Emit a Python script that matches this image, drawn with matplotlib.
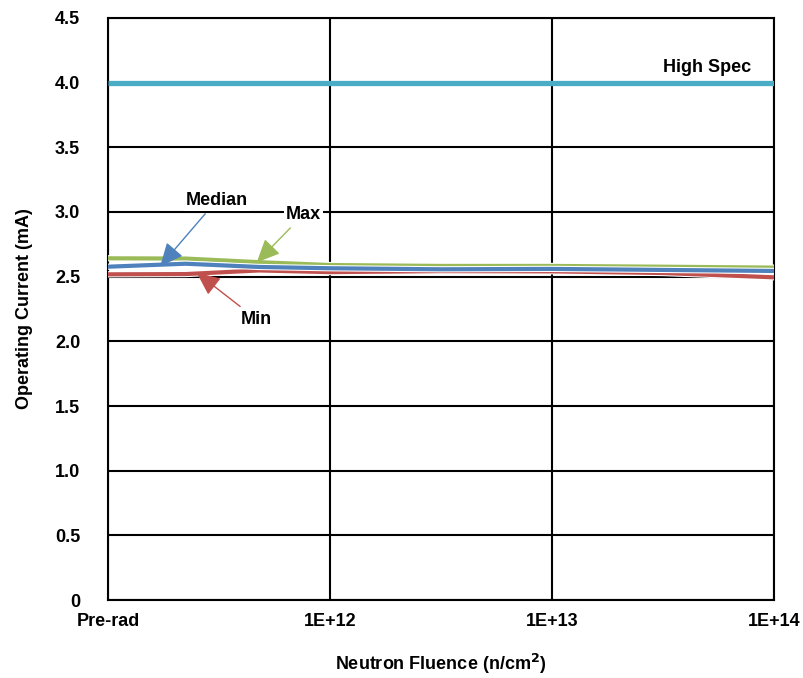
import matplotlib.pyplot as plt
import matplotlib.patheffects as pe

plt.rcParams['font.family'] = ['Liberation Sans', 'DejaVu Sans']
plt.rcParams['font.weight'] = 'bold'

# positions on the fluence axis (0 = pre-rad, 1..3 = 1E+12..1E+14)
fluence_pos = [0, 0.35, 0.68, 1.0, 1.5, 2.0, 2.5, 3.0]
tick_pos = [0, 1, 2, 3]
tick_labels = ['Pre-rad', '1E+12', '1E+13', '1E+14']

max_vals = [2.642, 2.640, 2.612, 2.590, 2.583, 2.583, 2.577, 2.570]
median_vals = [2.577, 2.600, 2.575, 2.565, 2.557, 2.560, 2.552, 2.544]
min_vals = [2.518, 2.520, 2.548, 2.535, 2.543, 2.541, 2.528, 2.495]
high_spec = 4.0

c_max = '#9BBB59'
c_med = '#4F81BD'
c_min = '#C0504D'
c_spec = '#4BACC6'
fs = 13

fig = plt.figure(figsize=(8.04, 6.78), dpi=100)
ax = fig.add_axes([0.1343, 0.1150, 0.8284, 0.8585])

glow = [pe.Stroke(linewidth=4.5, foreground='white'), pe.Normal()]
ax.plot(fluence_pos, max_vals, color=c_max, lw=3, path_effects=glow, zorder=4)
ax.plot(fluence_pos, min_vals, color=c_min, lw=3, path_effects=glow, zorder=4)
ax.plot(fluence_pos, median_vals, color=c_med, lw=3, path_effects=glow, zorder=5)
ax.plot([0, 3], [high_spec, high_spec], color=c_spec, lw=3.8, zorder=4,
        solid_capstyle='butt')

ax.set_xlim(0, 3)
ax.set_ylim(0, 4.5)
ax.set_xticks(tick_pos)
ax.set_xticklabels(tick_labels)
yt = [0, 0.5, 1, 1.5, 2, 2.5, 3, 3.5, 4, 4.5]
ax.set_yticks(yt)
ax.set_yticklabels(['0'] + ['%.1f' % v for v in yt[1:]])
ax.tick_params(length=0, labelsize=fs)
ax.tick_params(axis='y', pad=20)
ax.tick_params(axis='x', pad=9)
ax.grid(True, color='black', lw=1.5)
ax.set_axisbelow(True)
for s in ax.spines.values():
    s.set_linewidth(1.5)
    s.set_color('black')

ax.set_ylabel('Operating Current (mA)', fontsize=fs, fontweight='bold', labelpad=16)
ax.set_xlabel('Neutron Fluence (n/cm$^{\\mathbf{2}}$)', fontsize=fs, fontweight='bold', labelpad=16)

ax.text(2.7, 4.05, 'High Spec', fontsize=fs, fontweight='bold', ha='center', va='bottom')

def note(txt, xy, xytext, col):
    ax.annotate(txt, xy=xy, xytext=xytext, fontsize=fs, fontweight='bold',
                ha='center', va='center', zorder=6,
                bbox=dict(boxstyle='square,pad=0.1', fc='white', ec='none'),
                arrowprops=dict(arrowstyle='-|>,head_length=1.1,head_width=0.5',
                                color=col, lw=1, shrinkA=3, shrinkB=0))

note('Median', (0.235, 2.58), (0.49, 3.09), c_med)
note('Max', (0.67, 2.61), (0.88, 2.98), c_max)
note('Min', (0.40, 2.53), (0.67, 2.17), c_min)

fig.savefig('out.png', dpi=100)
